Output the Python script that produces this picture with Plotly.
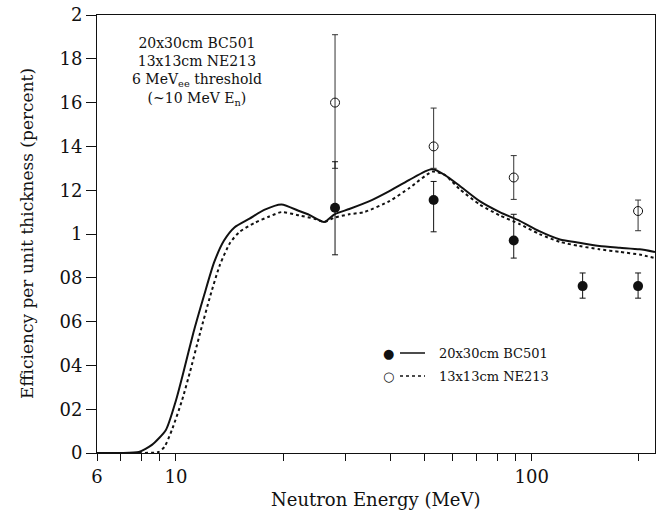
import plotly.graph_objects as go

# ---- data ----
bc501_E = [28, 53, 89, 139, 199]
bc501_eff = [1.12, 1.155, 0.97, 0.762, 0.762]
bc501_err_up = [0.21, 0.085, 0.12, 0.06, 0.06]
bc501_err_dn = [0.215, 0.145, 0.08, 0.055, 0.055]

ne213_E = [28, 53, 89, 199]
ne213_eff = [1.60, 1.40, 1.258, 1.105]
ne213_err_up = [0.31, 0.175, 0.10, 0.05]
ne213_err_dn = [0.30, 0.10, 0.10, 0.09]

bc501_curve_E = [6.0, 7.0, 7.87, 8.56, 9.37, 10.0, 10.5, 11.2, 12.0, 12.8, 13.65, 14.6, 16.1,
                 17.7, 19.8, 22.2, 23.7, 26.1, 27.9, 30.7, 35.0, 39.8, 45.3, 50.0, 52.6,
                 56.9, 62.7, 71.4, 81.3, 92.5, 105, 120, 136, 155, 177, 201, 222]
bc501_curve = [0.0, 0.0, 0.005, 0.037, 0.105, 0.24, 0.37, 0.55, 0.72, 0.87, 0.97, 1.03, 1.07,
               1.11, 1.135, 1.105, 1.087, 1.055, 1.09, 1.114, 1.15, 1.196, 1.247, 1.285, 1.297,
               1.27, 1.22, 1.15, 1.10, 1.06, 1.013, 0.975, 0.96, 0.945, 0.937, 0.93, 0.918]

ne213_curve_E = [6.0, 7.87, 8.95, 9.3, 9.74, 10.4, 10.95, 11.7, 12.5, 13.3, 14.2, 15.1, 16.6,
                 18.3, 19.8, 22.2, 24.5, 26.1, 27.9, 30.7, 33.8, 39.8, 45.3, 52.6, 56.9,
                 62.7, 71.4, 81.3, 92.5, 105, 120, 136, 155, 177, 201, 222]
ne213_curve = [0.0, 0.0, 0.005, 0.03, 0.105, 0.24, 0.37, 0.55, 0.72, 0.86, 0.96, 1.01, 1.05,
               1.08, 1.10, 1.085, 1.07, 1.055, 1.075, 1.09, 1.10, 1.15, 1.21, 1.285, 1.27,
               1.205, 1.135, 1.085, 1.045, 1.00, 0.964, 0.945, 0.93, 0.918, 0.906, 0.89]

x_tickvals = [6, 10, 100]
x_ticktext = ["6", "10", "100"]
x_minor = [7, 8, 9, 20, 30, 40, 50, 60, 70, 80, 90, 200]
y_tickvals = [0, 0.2, 0.4, 0.6, 0.8, 1.0, 1.2, 1.4, 1.6, 1.8, 2.0]
y_ticktext = ["0", "02", "04", "06", "08", "1", "12", "14", "16", "18", "2"]

FONT = "DejaVu Serif"
INK = "#111111"

fig = go.Figure()
fig.add_trace(go.Scatter(x=bc501_curve_E, y=bc501_curve, mode="lines",
                         line=dict(color=INK, width=2, shape="spline", smoothing=0.6),
                         showlegend=False))
fig.add_trace(go.Scatter(x=ne213_curve_E, y=ne213_curve, mode="lines",
                         line=dict(color=INK, width=2, dash="dot", shape="spline", smoothing=0.6),
                         showlegend=False))
fig.add_trace(go.Scatter(x=ne213_E, y=ne213_eff, mode="markers",
                         marker=dict(symbol="circle-open", size=9, color=INK, line=dict(width=1)),
                         error_y=dict(type="data", array=ne213_err_up, arrayminus=ne213_err_dn,
                                      thickness=1, width=3, color="#333"),
                         showlegend=False))
fig.add_trace(go.Scatter(x=bc501_E, y=bc501_eff, mode="markers",
                         marker=dict(symbol="circle", size=10, color=INK),
                         error_y=dict(type="data", array=bc501_err_up, arrayminus=bc501_err_dn,
                                      thickness=1, width=3, color=INK),
                         showlegend=False))

# manual legend (positions in screen pixels relative to the plot frame)
def px_x(p):
    return (p - 97) / 558

def px_y(p):
    return (453 - p) / 438

legend_rows = [("circle", "solid", "20x30cm BC501", 353),
               ("circle-open", "dot", "13x13cm NE213", 376)]
for sym, dash, label, ypx in legend_rows:
    fig.add_annotation(x=px_x(437), y=px_y(ypx), xref="paper", yref="paper", text=label,
                       showarrow=False, xanchor="left", yanchor="middle",
                       font=dict(family=FONT, size=13, color=INK))
    fig.add_shape(type="line", xref="paper", yref="paper", x0=px_x(400), x1=px_x(425),
                  y0=px_y(ypx), y1=px_y(ypx), line=dict(color=INK, width=1.5, dash=dash))
    fig.add_annotation(x=px_x(388), y=px_y(ypx), xref="paper", yref="paper",
                       text="●" if sym == "circle" else "○", showarrow=False,
                       xanchor="center", yanchor="middle",
                       font=dict(family="DejaVu Sans", size=13, color=INK))

fig.add_annotation(x=px_x(197), y=px_y(72), xref="paper", yref="paper",
                   text="20x30cm BC501<br>13x13cm NE213<br>6 MeV<sub>ee</sub> threshold<br>(~10 MeV E<sub>n</sub>)",
                   showarrow=False, align="center", xanchor="center", yanchor="middle",
                   font=dict(family=FONT, size=14, color=INK))

fig.add_annotation(x=px_x(27), y=0.5, xref="paper", yref="paper",
                   text="Efficiency per unit thickness (percent)", textangle=-90,
                   showarrow=False, xanchor="center", yanchor="middle",
                   font=dict(family=FONT, size=17, color=INK))
fig.add_annotation(x=0.5, y=px_y(500), xref="paper", yref="paper",
                   text="Neutron Energy (MeV)", showarrow=False,
                   xanchor="center", yanchor="middle",
                   font=dict(family=FONT, size=18, color=INK))

fig.update_xaxes(type="log", range=[0.77815, 2.3464], tickvals=x_tickvals, ticktext=x_ticktext,
                 ticks="outside", ticklen=7, tickwidth=1, tickcolor=INK,
                 minor=dict(tickvals=x_minor, ticks="outside", ticklen=7, tickcolor=INK),
                 showline=True, linecolor=INK, linewidth=1, mirror=True, showgrid=False,
                 zeroline=False, automargin=False, ticklabeloverflow="allow",
                 tickfont=dict(family=FONT, size=18, color=INK))
fig.update_yaxes(range=[0, 2], tickvals=y_tickvals, ticktext=y_ticktext,
                 ticks="outside", ticklen=10, tickwidth=1, tickcolor=INK,
                 showline=True, linecolor=INK, linewidth=1, mirror=True, showgrid=False,
                 zeroline=False, automargin=False, ticklabeloverflow="allow",
                 tickfont=dict(family=FONT, size=18, color=INK))

fig.update_layout(width=659, height=519, margin=dict(l=97, r=4, t=15, b=66, autoexpand=False),
                  plot_bgcolor="white", paper_bgcolor="white", showlegend=False)

# remove the page's default body margin so the figure starts at the window corner
fig.write_html("out.html", config={"displayModeBar": False},
               post_script="document.body.style.margin='0';")
